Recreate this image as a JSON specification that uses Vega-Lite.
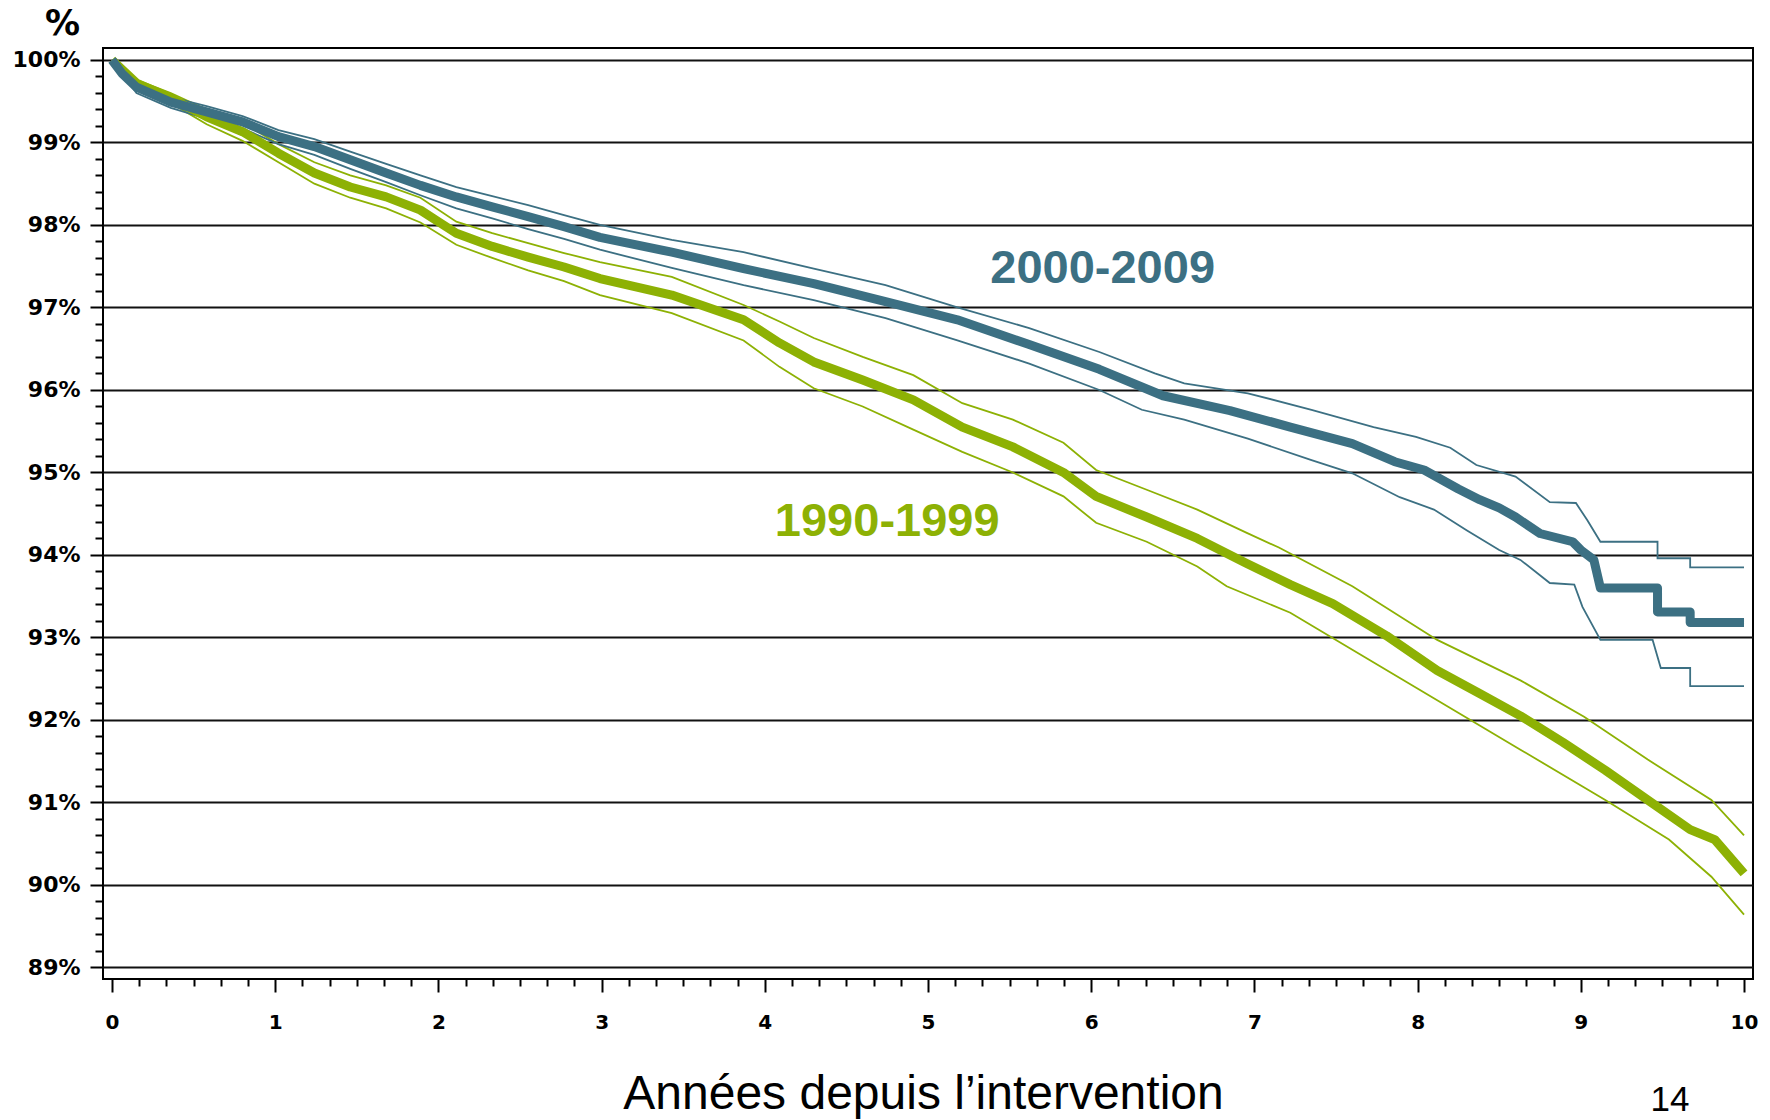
{
  "$schema": "https://vega.github.io/schema/vega-lite/v6.json",
  "autosize": {"type": "none"},
  "width": 1650,
  "height": 931,
  "padding": {"left": 103, "top": 48, "right": 17, "bottom": 141},
  "background": "white",
  "config": {"view": {"stroke": "black", "strokeWidth": 2}},
  "datasets": {
    "survie": [
      {"s": "1990-1999", "k": "hi", "t": 0, "v": 100},
      {"s": "1990-1999", "k": "hi", "t": 0.15, "v": 99.76},
      {"s": "1990-1999", "k": "hi", "t": 0.36, "v": 99.6},
      {"s": "1990-1999", "k": "hi", "t": 0.58, "v": 99.4},
      {"s": "1990-1999", "k": "hi", "t": 0.8, "v": 99.24},
      {"s": "1990-1999", "k": "hi", "t": 1.02, "v": 98.98},
      {"s": "1990-1999", "k": "hi", "t": 1.24, "v": 98.76},
      {"s": "1990-1999", "k": "hi", "t": 1.46, "v": 98.6},
      {"s": "1990-1999", "k": "hi", "t": 1.68, "v": 98.48},
      {"s": "1990-1999", "k": "hi", "t": 1.89, "v": 98.33},
      {"s": "1990-1999", "k": "hi", "t": 2.11, "v": 98.04},
      {"s": "1990-1999", "k": "hi", "t": 2.33, "v": 97.9},
      {"s": "1990-1999", "k": "hi", "t": 2.55, "v": 97.78},
      {"s": "1990-1999", "k": "hi", "t": 2.77, "v": 97.66},
      {"s": "1990-1999", "k": "hi", "t": 2.99, "v": 97.55},
      {"s": "1990-1999", "k": "hi", "t": 3.43, "v": 97.37},
      {"s": "1990-1999", "k": "hi", "t": 3.87, "v": 97.03},
      {"s": "1990-1999", "k": "hi", "t": 4.09, "v": 96.83},
      {"s": "1990-1999", "k": "hi", "t": 4.3, "v": 96.63},
      {"s": "1990-1999", "k": "hi", "t": 4.6, "v": 96.4},
      {"s": "1990-1999", "k": "hi", "t": 4.91, "v": 96.18},
      {"s": "1990-1999", "k": "hi", "t": 5.21, "v": 95.84},
      {"s": "1990-1999", "k": "hi", "t": 5.52, "v": 95.64},
      {"s": "1990-1999", "k": "hi", "t": 5.83, "v": 95.36},
      {"s": "1990-1999", "k": "hi", "t": 6.03, "v": 95.03},
      {"s": "1990-1999", "k": "hi", "t": 6.34, "v": 94.79},
      {"s": "1990-1999", "k": "hi", "t": 6.65, "v": 94.55},
      {"s": "1990-1999", "k": "hi", "t": 6.95, "v": 94.27},
      {"s": "1990-1999", "k": "hi", "t": 7.15, "v": 94.09},
      {"s": "1990-1999", "k": "hi", "t": 7.6, "v": 93.62},
      {"s": "1990-1999", "k": "hi", "t": 8.12, "v": 92.97},
      {"s": "1990-1999", "k": "hi", "t": 8.63, "v": 92.48},
      {"s": "1990-1999", "k": "hi", "t": 9.02, "v": 92.04},
      {"s": "1990-1999", "k": "hi", "t": 9.41, "v": 91.52},
      {"s": "1990-1999", "k": "hi", "t": 9.8, "v": 91.03},
      {"s": "1990-1999", "k": "hi", "t": 10.0, "v": 90.6},

      {"s": "1990-1999", "k": "lo", "t": 0, "v": 100},
      {"s": "1990-1999", "k": "lo", "t": 0.15, "v": 99.68},
      {"s": "1990-1999", "k": "lo", "t": 0.36, "v": 99.48},
      {"s": "1990-1999", "k": "lo", "t": 0.58, "v": 99.22},
      {"s": "1990-1999", "k": "lo", "t": 0.8, "v": 99.02},
      {"s": "1990-1999", "k": "lo", "t": 1.02, "v": 98.76},
      {"s": "1990-1999", "k": "lo", "t": 1.24, "v": 98.5},
      {"s": "1990-1999", "k": "lo", "t": 1.46, "v": 98.33},
      {"s": "1990-1999", "k": "lo", "t": 1.68, "v": 98.2},
      {"s": "1990-1999", "k": "lo", "t": 1.89, "v": 98.03},
      {"s": "1990-1999", "k": "lo", "t": 2.11, "v": 97.76},
      {"s": "1990-1999", "k": "lo", "t": 2.33, "v": 97.6},
      {"s": "1990-1999", "k": "lo", "t": 2.55, "v": 97.45},
      {"s": "1990-1999", "k": "lo", "t": 2.77, "v": 97.32},
      {"s": "1990-1999", "k": "lo", "t": 2.99, "v": 97.15},
      {"s": "1990-1999", "k": "lo", "t": 3.43, "v": 96.93},
      {"s": "1990-1999", "k": "lo", "t": 3.87, "v": 96.6},
      {"s": "1990-1999", "k": "lo", "t": 4.09, "v": 96.28},
      {"s": "1990-1999", "k": "lo", "t": 4.3, "v": 96.02},
      {"s": "1990-1999", "k": "lo", "t": 4.6, "v": 95.8},
      {"s": "1990-1999", "k": "lo", "t": 4.91, "v": 95.52},
      {"s": "1990-1999", "k": "lo", "t": 5.21, "v": 95.25},
      {"s": "1990-1999", "k": "lo", "t": 5.52, "v": 95.0},
      {"s": "1990-1999", "k": "lo", "t": 5.83, "v": 94.71},
      {"s": "1990-1999", "k": "lo", "t": 6.03, "v": 94.39},
      {"s": "1990-1999", "k": "lo", "t": 6.34, "v": 94.16},
      {"s": "1990-1999", "k": "lo", "t": 6.65, "v": 93.86},
      {"s": "1990-1999", "k": "lo", "t": 6.83, "v": 93.62},
      {"s": "1990-1999", "k": "lo", "t": 7.22, "v": 93.3},
      {"s": "1990-1999", "k": "lo", "t": 7.6, "v": 92.85},
      {"s": "1990-1999", "k": "lo", "t": 8.12, "v": 92.24},
      {"s": "1990-1999", "k": "lo", "t": 8.63, "v": 91.64},
      {"s": "1990-1999", "k": "lo", "t": 9.15, "v": 91.03},
      {"s": "1990-1999", "k": "lo", "t": 9.54, "v": 90.55},
      {"s": "1990-1999", "k": "lo", "t": 9.8, "v": 90.1},
      {"s": "1990-1999", "k": "lo", "t": 10.0, "v": 89.64},

      {"s": "1990-1999", "k": "est", "t": 0, "v": 100},
      {"s": "1990-1999", "k": "est", "t": 0.15, "v": 99.72},
      {"s": "1990-1999", "k": "est", "t": 0.36, "v": 99.54},
      {"s": "1990-1999", "k": "est", "t": 0.58, "v": 99.31},
      {"s": "1990-1999", "k": "est", "t": 0.8, "v": 99.13},
      {"s": "1990-1999", "k": "est", "t": 1.02, "v": 98.87},
      {"s": "1990-1999", "k": "est", "t": 1.24, "v": 98.63},
      {"s": "1990-1999", "k": "est", "t": 1.46, "v": 98.46},
      {"s": "1990-1999", "k": "est", "t": 1.68, "v": 98.34},
      {"s": "1990-1999", "k": "est", "t": 1.89, "v": 98.18},
      {"s": "1990-1999", "k": "est", "t": 2.0, "v": 98.04},
      {"s": "1990-1999", "k": "est", "t": 2.11, "v": 97.9},
      {"s": "1990-1999", "k": "est", "t": 2.33, "v": 97.74},
      {"s": "1990-1999", "k": "est", "t": 2.55, "v": 97.61},
      {"s": "1990-1999", "k": "est", "t": 2.77, "v": 97.49},
      {"s": "1990-1999", "k": "est", "t": 2.99, "v": 97.35},
      {"s": "1990-1999", "k": "est", "t": 3.43, "v": 97.15},
      {"s": "1990-1999", "k": "est", "t": 3.87, "v": 96.85},
      {"s": "1990-1999", "k": "est", "t": 4.09, "v": 96.57},
      {"s": "1990-1999", "k": "est", "t": 4.3, "v": 96.34},
      {"s": "1990-1999", "k": "est", "t": 4.6, "v": 96.12},
      {"s": "1990-1999", "k": "est", "t": 4.91, "v": 95.88},
      {"s": "1990-1999", "k": "est", "t": 5.21, "v": 95.55},
      {"s": "1990-1999", "k": "est", "t": 5.52, "v": 95.31},
      {"s": "1990-1999", "k": "est", "t": 5.83, "v": 95.0},
      {"s": "1990-1999", "k": "est", "t": 6.03, "v": 94.71},
      {"s": "1990-1999", "k": "est", "t": 6.34, "v": 94.46},
      {"s": "1990-1999", "k": "est", "t": 6.65, "v": 94.2},
      {"s": "1990-1999", "k": "est", "t": 6.95, "v": 93.9},
      {"s": "1990-1999", "k": "est", "t": 7.22, "v": 93.64},
      {"s": "1990-1999", "k": "est", "t": 7.48, "v": 93.41},
      {"s": "1990-1999", "k": "est", "t": 7.81, "v": 93.02},
      {"s": "1990-1999", "k": "est", "t": 8.12, "v": 92.6},
      {"s": "1990-1999", "k": "est", "t": 8.38, "v": 92.32},
      {"s": "1990-1999", "k": "est", "t": 8.63, "v": 92.05},
      {"s": "1990-1999", "k": "est", "t": 8.89, "v": 91.73},
      {"s": "1990-1999", "k": "est", "t": 9.15, "v": 91.39},
      {"s": "1990-1999", "k": "est", "t": 9.41, "v": 91.03},
      {"s": "1990-1999", "k": "est", "t": 9.67, "v": 90.67},
      {"s": "1990-1999", "k": "est", "t": 9.82, "v": 90.55},
      {"s": "1990-1999", "k": "est", "t": 9.93, "v": 90.3},
      {"s": "1990-1999", "k": "est", "t": 10.0, "v": 90.14},

      {"s": "2000-2009", "k": "hi", "t": 0, "v": 100},
      {"s": "2000-2009", "k": "hi", "t": 0.15, "v": 99.72},
      {"s": "2000-2009", "k": "hi", "t": 0.36, "v": 99.55},
      {"s": "2000-2009", "k": "hi", "t": 0.58, "v": 99.44},
      {"s": "2000-2009", "k": "hi", "t": 0.8, "v": 99.32},
      {"s": "2000-2009", "k": "hi", "t": 1.02, "v": 99.15},
      {"s": "2000-2009", "k": "hi", "t": 1.24, "v": 99.04},
      {"s": "2000-2009", "k": "hi", "t": 1.46, "v": 98.89},
      {"s": "2000-2009", "k": "hi", "t": 1.68, "v": 98.74},
      {"s": "2000-2009", "k": "hi", "t": 1.89, "v": 98.6},
      {"s": "2000-2009", "k": "hi", "t": 2.11, "v": 98.46},
      {"s": "2000-2009", "k": "hi", "t": 2.33, "v": 98.35},
      {"s": "2000-2009", "k": "hi", "t": 2.55, "v": 98.24},
      {"s": "2000-2009", "k": "hi", "t": 2.77, "v": 98.12},
      {"s": "2000-2009", "k": "hi", "t": 2.99, "v": 98.0},
      {"s": "2000-2009", "k": "hi", "t": 3.43, "v": 97.82},
      {"s": "2000-2009", "k": "hi", "t": 3.87, "v": 97.67},
      {"s": "2000-2009", "k": "hi", "t": 4.3, "v": 97.47},
      {"s": "2000-2009", "k": "hi", "t": 4.74, "v": 97.27},
      {"s": "2000-2009", "k": "hi", "t": 5.18, "v": 97.0},
      {"s": "2000-2009", "k": "hi", "t": 5.62, "v": 96.75},
      {"s": "2000-2009", "k": "hi", "t": 6.05, "v": 96.46},
      {"s": "2000-2009", "k": "hi", "t": 6.39, "v": 96.2},
      {"s": "2000-2009", "k": "hi", "t": 6.57, "v": 96.08},
      {"s": "2000-2009", "k": "hi", "t": 6.96, "v": 95.96},
      {"s": "2000-2009", "k": "hi", "t": 7.35, "v": 95.76},
      {"s": "2000-2009", "k": "hi", "t": 7.73, "v": 95.55},
      {"s": "2000-2009", "k": "hi", "t": 7.99, "v": 95.43},
      {"s": "2000-2009", "k": "hi", "t": 8.2, "v": 95.3},
      {"s": "2000-2009", "k": "hi", "t": 8.36, "v": 95.09},
      {"s": "2000-2009", "k": "hi", "t": 8.6, "v": 94.95},
      {"s": "2000-2009", "k": "hi", "t": 8.81, "v": 94.64},
      {"s": "2000-2009", "k": "hi", "t": 8.97, "v": 94.63},
      {"s": "2000-2009", "k": "hi", "t": 9.04, "v": 94.42},
      {"s": "2000-2009", "k": "hi", "t": 9.12, "v": 94.16},
      {"s": "2000-2009", "k": "hi", "t": 9.47, "v": 94.16},
      {"s": "2000-2009", "k": "hi", "t": 9.47, "v": 93.96},
      {"s": "2000-2009", "k": "hi", "t": 9.67, "v": 93.96},
      {"s": "2000-2009", "k": "hi", "t": 9.67, "v": 93.85},
      {"s": "2000-2009", "k": "hi", "t": 10.0, "v": 93.85},

      {"s": "2000-2009", "k": "lo", "t": 0, "v": 100},
      {"s": "2000-2009", "k": "lo", "t": 0.15, "v": 99.6},
      {"s": "2000-2009", "k": "lo", "t": 0.36, "v": 99.42},
      {"s": "2000-2009", "k": "lo", "t": 0.58, "v": 99.29},
      {"s": "2000-2009", "k": "lo", "t": 0.8, "v": 99.17},
      {"s": "2000-2009", "k": "lo", "t": 1.02, "v": 98.98},
      {"s": "2000-2009", "k": "lo", "t": 1.24, "v": 98.85},
      {"s": "2000-2009", "k": "lo", "t": 1.46, "v": 98.68},
      {"s": "2000-2009", "k": "lo", "t": 1.68, "v": 98.52},
      {"s": "2000-2009", "k": "lo", "t": 1.89, "v": 98.36},
      {"s": "2000-2009", "k": "lo", "t": 2.11, "v": 98.2},
      {"s": "2000-2009", "k": "lo", "t": 2.33, "v": 98.08},
      {"s": "2000-2009", "k": "lo", "t": 2.55, "v": 97.95},
      {"s": "2000-2009", "k": "lo", "t": 2.77, "v": 97.83},
      {"s": "2000-2009", "k": "lo", "t": 2.99, "v": 97.7},
      {"s": "2000-2009", "k": "lo", "t": 3.43, "v": 97.48},
      {"s": "2000-2009", "k": "lo", "t": 3.87, "v": 97.27},
      {"s": "2000-2009", "k": "lo", "t": 4.3, "v": 97.09},
      {"s": "2000-2009", "k": "lo", "t": 4.74, "v": 96.87},
      {"s": "2000-2009", "k": "lo", "t": 5.18, "v": 96.6},
      {"s": "2000-2009", "k": "lo", "t": 5.62, "v": 96.32},
      {"s": "2000-2009", "k": "lo", "t": 6.05, "v": 96.0},
      {"s": "2000-2009", "k": "lo", "t": 6.31, "v": 95.76},
      {"s": "2000-2009", "k": "lo", "t": 6.57, "v": 95.64},
      {"s": "2000-2009", "k": "lo", "t": 6.96, "v": 95.41},
      {"s": "2000-2009", "k": "lo", "t": 7.35, "v": 95.15},
      {"s": "2000-2009", "k": "lo", "t": 7.6, "v": 94.99},
      {"s": "2000-2009", "k": "lo", "t": 7.89, "v": 94.7},
      {"s": "2000-2009", "k": "lo", "t": 8.1, "v": 94.55},
      {"s": "2000-2009", "k": "lo", "t": 8.3, "v": 94.3},
      {"s": "2000-2009", "k": "lo", "t": 8.5, "v": 94.06},
      {"s": "2000-2009", "k": "lo", "t": 8.63, "v": 93.94},
      {"s": "2000-2009", "k": "lo", "t": 8.81, "v": 93.66},
      {"s": "2000-2009", "k": "lo", "t": 8.96, "v": 93.64},
      {"s": "2000-2009", "k": "lo", "t": 9.01, "v": 93.37},
      {"s": "2000-2009", "k": "lo", "t": 9.12, "v": 92.97},
      {"s": "2000-2009", "k": "lo", "t": 9.44, "v": 92.97},
      {"s": "2000-2009", "k": "lo", "t": 9.49, "v": 92.63},
      {"s": "2000-2009", "k": "lo", "t": 9.67, "v": 92.63},
      {"s": "2000-2009", "k": "lo", "t": 9.67, "v": 92.41},
      {"s": "2000-2009", "k": "lo", "t": 10.0, "v": 92.41},

      {"s": "2000-2009", "k": "est", "t": 0, "v": 100},
      {"s": "2000-2009", "k": "est", "t": 0.06, "v": 99.84},
      {"s": "2000-2009", "k": "est", "t": 0.15, "v": 99.67},
      {"s": "2000-2009", "k": "est", "t": 0.36, "v": 99.49},
      {"s": "2000-2009", "k": "est", "t": 0.58, "v": 99.37},
      {"s": "2000-2009", "k": "est", "t": 0.8, "v": 99.25},
      {"s": "2000-2009", "k": "est", "t": 1.02, "v": 99.07},
      {"s": "2000-2009", "k": "est", "t": 1.24, "v": 98.95},
      {"s": "2000-2009", "k": "est", "t": 1.46, "v": 98.79},
      {"s": "2000-2009", "k": "est", "t": 1.68, "v": 98.63},
      {"s": "2000-2009", "k": "est", "t": 1.89, "v": 98.48},
      {"s": "2000-2009", "k": "est", "t": 2.11, "v": 98.34},
      {"s": "2000-2009", "k": "est", "t": 2.33, "v": 98.22},
      {"s": "2000-2009", "k": "est", "t": 2.55, "v": 98.1},
      {"s": "2000-2009", "k": "est", "t": 2.77, "v": 97.98},
      {"s": "2000-2009", "k": "est", "t": 2.99, "v": 97.85},
      {"s": "2000-2009", "k": "est", "t": 3.43, "v": 97.67},
      {"s": "2000-2009", "k": "est", "t": 3.87, "v": 97.47},
      {"s": "2000-2009", "k": "est", "t": 4.3, "v": 97.29},
      {"s": "2000-2009", "k": "est", "t": 4.74, "v": 97.07},
      {"s": "2000-2009", "k": "est", "t": 5.18, "v": 96.85},
      {"s": "2000-2009", "k": "est", "t": 5.62, "v": 96.55},
      {"s": "2000-2009", "k": "est", "t": 6.05, "v": 96.25},
      {"s": "2000-2009", "k": "est", "t": 6.44, "v": 95.93},
      {"s": "2000-2009", "k": "est", "t": 6.85, "v": 95.75},
      {"s": "2000-2009", "k": "est", "t": 7.22, "v": 95.55},
      {"s": "2000-2009", "k": "est", "t": 7.6, "v": 95.35},
      {"s": "2000-2009", "k": "est", "t": 7.86, "v": 95.13},
      {"s": "2000-2009", "k": "est", "t": 8.04, "v": 95.03},
      {"s": "2000-2009", "k": "est", "t": 8.25, "v": 94.8},
      {"s": "2000-2009", "k": "est", "t": 8.38, "v": 94.67},
      {"s": "2000-2009", "k": "est", "t": 8.5, "v": 94.57},
      {"s": "2000-2009", "k": "est", "t": 8.6, "v": 94.46},
      {"s": "2000-2009", "k": "est", "t": 8.75, "v": 94.26},
      {"s": "2000-2009", "k": "est", "t": 8.95, "v": 94.16},
      {"s": "2000-2009", "k": "est", "t": 9.0, "v": 94.06},
      {"s": "2000-2009", "k": "est", "t": 9.08, "v": 93.94},
      {"s": "2000-2009", "k": "est", "t": 9.12, "v": 93.6},
      {"s": "2000-2009", "k": "est", "t": 9.47, "v": 93.6},
      {"s": "2000-2009", "k": "est", "t": 9.47, "v": 93.31},
      {"s": "2000-2009", "k": "est", "t": 9.67, "v": 93.31},
      {"s": "2000-2009", "k": "est", "t": 9.67, "v": 93.18},
      {"s": "2000-2009", "k": "est", "t": 10.0, "v": 93.18}
    ]
  },
  "data": {"name": "survie"},
  "encoding": {
    "x": {
      "field": "t",
      "type": "quantitative",
      "scale": {"domain": [-0.055, 10.055], "nice": false, "zero": false},
      "axis": {
        "values": [0, 0.1667, 0.3333, 0.5, 0.6667, 0.8333, 1, 1.1667, 1.3333, 1.5, 1.6667, 1.8333, 2, 2.1667, 2.3333, 2.5, 2.6667, 2.8333, 3, 3.1667, 3.3333, 3.5, 3.6667, 3.8333, 4, 4.1667, 4.3333, 4.5, 4.6667, 4.8333, 5, 5.1667, 5.3333, 5.5, 5.6667, 5.8333, 6, 6.1667, 6.3333, 6.5, 6.6667, 6.8333, 7, 7.1667, 7.3333, 7.5, 7.6667, 7.8333, 8, 8.1667, 8.3333, 8.5, 8.6667, 8.8333, 9, 9.1667, 9.3333, 9.5, 9.6667, 9.8333, 10],
        "title": "Années depuis l’intervention",
        "grid": false,
        "domain": false,
        "tickColor": "black",
        "tickWidth": 2,
        "tickSize": {"condition": {"test": "abs(datum.value - round(datum.value)) < 0.01", "value": 13}, "value": 7},
        "labelExpr": "abs(datum.value - round(datum.value)) < 0.01 ? format(round(datum.value), 'd') : ''",
        "labelFont": "DejaVu Sans",
        "labelFontWeight": "bold",
        "labelFontSize": 20,
        "labelColor": "black",
        "labelPadding": 20,
        "labelAngle": 0,
        "labelOverlap": false,
        "labelFlush": false,
        "titleFont": "Liberation Sans",
        "titleFontSize": 48,
        "titleFontWeight": "normal",
        "titleColor": "black",
        "titleX": 820,
        "titleY": 129,
        "titleAlign": "center",
        "titleBaseline": "alphabetic"
      }
    },
    "y": {
      "field": "v",
      "type": "quantitative",
      "scale": {"domain": [88.86, 100.145], "nice": false, "zero": false},
      "axis": {
        "values": [89, 89.2, 89.4, 89.6, 89.8, 90, 90.2, 90.4, 90.6, 90.8, 91, 91.2, 91.4, 91.6, 91.8, 92, 92.2, 92.4, 92.6, 92.8, 93, 93.2, 93.4, 93.6, 93.8, 94, 94.2, 94.4, 94.6, 94.8, 95, 95.2, 95.4, 95.6, 95.8, 96, 96.2, 96.4, 96.6, 96.8, 97, 97.2, 97.4, 97.6, 97.8, 98, 98.2, 98.4, 98.6, 98.8, 99, 99.2, 99.4, 99.6, 99.8, 100],
        "title": "%",
        "grid": true,
        "gridColor": "#111111",
        "gridWidth": 2,
        "gridOpacity": {"condition": {"test": "abs(datum.value - round(datum.value)) < 0.01", "value": 1}, "value": 0},
        "domain": false,
        "tickColor": "black",
        "tickWidth": 2,
        "tickSize": {"condition": {"test": "abs(datum.value - round(datum.value)) < 0.01", "value": 13}, "value": 8},
        "labelExpr": "abs(datum.value - round(datum.value)) < 0.01 ? format(round(datum.value), 'd') + '%' : ''",
        "labelFont": "DejaVu Sans",
        "labelFontWeight": "bold",
        "labelFontSize": 22,
        "labelColor": "black",
        "labelPadding": 10,
        "labelOverlap": false,
        "labelFlush": false,
        "titleAngle": 0,
        "titleX": -41,
        "titleY": -25,
        "titleAlign": "center",
        "titleBaseline": "middle",
        "titleFont": "DejaVu Sans",
        "titleFontSize": 35,
        "titleFontWeight": "bold",
        "titleColor": "black"
      }
    }
  },
  "layer": [
    {
      "transform": [{"filter": "datum.k !== 'est'"}],
      "mark": {"type": "line", "strokeWidth": 1.8},
      "encoding": {
        "color": {
          "field": "s",
          "type": "nominal",
          "scale": {"domain": ["2000-2009", "1990-1999"], "range": ["#3C7083", "#8DB104"]},
          "legend": null
        },
        "detail": {"field": "k"},
        "order": {"value": null}
      }
    },
    {
      "transform": [{"filter": "datum.k === 'est'"}],
      "mark": {"type": "line", "strokeWidth": 9, "strokeJoin": "round"},
      "encoding": {
        "color": {"field": "s", "type": "nominal"},
        "order": {"value": null}
      }
    },
    {
      "data": {"values": [
        {"s": "2000-2009", "label": "2000-2009", "t": 6.07, "v": 97.3},
        {"s": "1990-1999", "label": "1990-1999", "t": 4.75, "v": 94.23}
      ]},
      "mark": {"type": "text", "font": "Liberation Sans", "fontWeight": "bold", "fontSize": 47, "align": "center", "baseline": "alphabetic"},
      "encoding": {
        "color": {"field": "s", "type": "nominal"},
        "text": {"field": "label"}
      }
    },
    {
      "data": {"values": [{"label": "14", "t": 9.547, "v": 87.26}]},
      "mark": {"type": "text", "font": "Liberation Sans", "fontSize": 35, "align": "center", "baseline": "alphabetic", "color": "black"},
      "encoding": {"text": {"field": "label"}}
    }
  ]
}
